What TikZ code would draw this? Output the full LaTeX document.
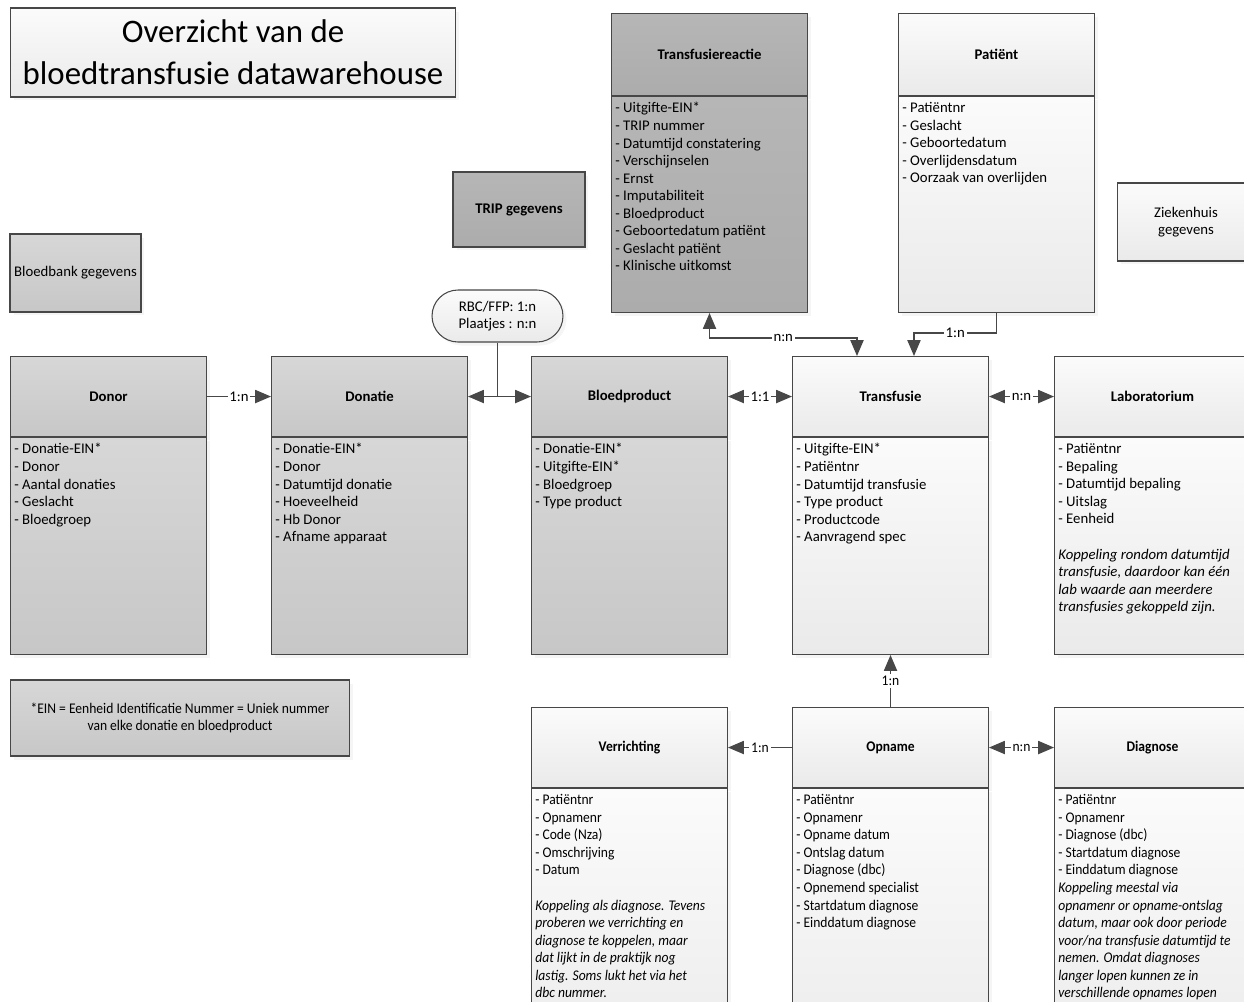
\documentclass[tikz,border=0pt]{standalone}
\usepackage{fontspec}
\setmainfont{Carlito}
\newfontfamily\smalfont[FakeStretch=0.92]{Carlito}
\usetikzlibrary{positioning, arrows.meta, shadows}
\definecolor{dwlijn}{HTML}{474747}
\definecolor{dwdonker}{HTML}{B6B6B6}
\definecolor{dwdonker2}{HTML}{ACACAC}
\definecolor{dwmidden}{HTML}{D7D7D7}
\definecolor{dwmidden2}{HTML}{C7C7C7}
\definecolor{dwlicht}{HTML}{FBFBFB}
\definecolor{dwlicht2}{HTML}{EAEAEA}

\begin{document}
\begin{tikzpicture}[x=0.02cm, y=-0.02cm, font=\fontsize{8.4}{10}\selectfont,
    box/.style={draw=dwlijn, line width=0.6pt, rectangle, inner sep=0pt,
      drop shadow={shadow xshift=0.07cm, shadow yshift=-0.07cm, fill=black!8}},
    kop/.style={box, anchor=north west, minimum width=3.92cm, minimum height=1.6cm, font=\fontsize{8.4}{10}\selectfont\bfseries},
    romp/.style={box, anchor=north, minimum width=3.92cm, minimum height=4.34cm},
    donker/.style={top color=dwdonker, bottom color=dwdonker2},
    midden/.style={top color=dwmidden, bottom color=dwmidden2},
    licht/.style={top color=dwlicht, bottom color=dwlicht2},
    lijst/.style={anchor=north west, align=left, inner sep=0pt, xshift=0.08cm, yshift=-0.12cm},
    pijl/.style={draw=dwlijn, line width=0.7pt, -{Triangle[length=9pt, width=7.5pt]}},
    dpijl/.style={pijl, {Triangle[length=9pt, width=7.5pt]}-{Triangle[length=9pt, width=7.5pt]}},
    lbl/.style={fill=white, inner sep=1pt}]
  \useasboundingbox (0,0) rectangle (1244,1001);
  \clip (0,0) rectangle (1244,1001);

  % losse blokken
  \node[box, licht, minimum width=8.92cm, minimum height=1.78cm, align=center,
    font=\fontsize{18.7}{24}\selectfont] (titel) at (233,52.5)
    {Overzicht van de\\bloedtransfusie datawarehouse};
  \node[box, donker, minimum width=2.64cm, minimum height=1.5cm, font=\fontsize{8.4}{10}\selectfont\bfseries] (trip) at (519,209.5) {TRIP gegevens};
  \node[box, midden, minimum width=2.62cm, minimum height=1.56cm] (bloedbank) at (75.5,273) {Bloedbank gegevens};
  \node[box, licht, minimum width=2.74cm, minimum height=1.56cm, align=center] (ziekenhuis) at (1186,222) {Ziekenhuis\\gegevens};
  \node[box, midden, minimum width=6.8cm, minimum height=1.52cm, align=center, font=\smalfont\fontsize{8.4}{10}\selectfont] (ein) at (180,718)
    {*EIN = Eenheid Identificatie Nummer = Uniek nummer\\van elke donatie en bloedproduct};
  \node[box, licht, minimum width=2.62cm, minimum height=1.04cm, rounded corners=0.52cm, align=center] (rbc) at (497.5,316)
    {RBC/FFP: 1:n\\Plaatjes : n:n};

  % bovenste rij
  \node[kop, donker, minimum height=1.64cm] (reactie) at (611,13) {Transfusiereactie};
  \node[romp, donker, minimum height=4.32cm] (reactie-r) at (reactie.south) {};
  \node[lijst] (reactie-t) at (reactie-r.north west) {- Uitgifte-EIN*\\- TRIP nummer\\- Datumtijd constatering\\- Verschijnselen\\- Ernst\\- Imputabiliteit\\- Bloedproduct\\- Geboortedatum patiënt\\- Geslacht patiënt\\- Klinische uitkomst};

  \node[kop, licht, minimum height=1.64cm] (patient) at (898,13) {Patiënt};
  \node[romp, licht, minimum height=4.32cm] (patient-r) at (patient.south) {};
  \node[lijst] (patient-t) at (patient-r.north west) {- Patiëntnr\\- Geslacht\\- Geboortedatum\\- Overlijdensdatum\\- Oorzaak van overlijden};

  % middelste rij
  \node[kop, midden] (donor) at (10,356) {Donor};
  \node[romp, midden] (donor-r) at (donor.south) {};
  \node[lijst] (donor-t) at (donor-r.north west) {- Donatie-EIN*\\- Donor\\- Aantal donaties\\- Geslacht\\- Bloedgroep};

  \node[kop, midden] (donatie) at (271,356) {Donatie};
  \node[romp, midden] (donatie-r) at (donatie.south) {};
  \node[lijst] (donatie-t) at (donatie-r.north west) {- Donatie-EIN*\\- Donor\\- Datumtijd donatie\\- Hoeveelheid\\- Hb Donor\\- Afname apparaat};

  \node[kop, midden] (bloedproduct) at (531,356) {Bloedproduct};
  \node[romp, midden] (bloedproduct-r) at (bloedproduct.south) {};
  \node[lijst] (bloedproduct-t) at (bloedproduct-r.north west) {- Donatie-EIN*\\- Uitgifte-EIN*\\- Bloedgroep\\- Type product};

  \node[kop, licht] (transfusie) at (792,356) {Transfusie};
  \node[romp, licht] (transfusie-r) at (transfusie.south) {};
  \node[lijst] (transfusie-t) at (transfusie-r.north west) {- Uitgifte-EIN*\\- Patiëntnr\\- Datumtijd transfusie\\- Type product\\- Productcode\\- Aanvragend spec};

  \node[kop, licht] (lab) at (1054,356) {Laboratorium};
  \node[romp, licht] (lab-r) at (lab.south) {};
  \node[lijst] (lab-t) at (lab-r.north west) {- Patiëntnr\\- Bepaling\\- Datumtijd bepaling\\- Uitslag\\- Eenheid\\[10pt]
    \textit{Koppeling rondom datumtijd}\\\textit{transfusie, daardoor kan één}\\\textit{lab waarde aan meerdere}\\\textit{transfusies gekoppeld zijn.}};

  % onderste rij
  \begin{scope}[font=\smalfont\fontsize{8.4}{10}\selectfont]
  \node[kop, licht, font=\smalfont\fontsize{8.4}{10}\selectfont\bfseries] (verrichting) at (531,707) {Verrichting};
  \node[romp, licht, minimum height=6cm] (verrichting-r) at (verrichting.south) {};
  \node[lijst] (verrichting-t) at (verrichting-r.north west) {- Patiëntnr\\- Opnamenr\\- Code (Nza)\\- Omschrijving\\- Datum\\[10pt]
    \textit{Koppeling als diagnose. Tevens}\\\textit{proberen we verrichting en}\\\textit{diagnose te koppelen, maar}\\\textit{dat lijkt in de praktijk nog}\\\textit{lastig. Soms lukt het via het}\\\textit{dbc nummer.}};

  \node[kop, licht, font=\smalfont\fontsize{8.4}{10}\selectfont\bfseries] (opname) at (792,707) {Opname};
  \node[romp, licht, minimum height=6cm] (opname-r) at (opname.south) {};
  \node[lijst] (opname-t) at (opname-r.north west) {- Patiëntnr\\- Opnamenr\\- Opname datum\\- Ontslag datum\\- Diagnose (dbc)\\- Opnemend specialist\\- Startdatum diagnose\\- Einddatum diagnose};

  \node[kop, licht, font=\smalfont\fontsize{8.4}{10}\selectfont\bfseries] (diagnose) at (1054,707) {Diagnose};
  \node[romp, licht, minimum height=6cm] (diagnose-r) at (diagnose.south) {};
  \node[lijst] (diagnose-t) at (diagnose-r.north west) {- Patiëntnr\\- Opnamenr\\- Diagnose (dbc)\\- Startdatum diagnose\\- Einddatum diagnose\\
    \textit{Koppeling meestal via}\\\textit{opnamenr or opname-ontslag}\\\textit{datum, maar ook door periode}\\\textit{voor/na transfusie datumtijd te}\\\textit{nemen. Omdat diagnoses}\\\textit{langer lopen kunnen ze in}\\\textit{verschillende opnames lopen}};
  \end{scope}

  % verbindingen
  \draw[pijl] (donor.east) -- node[lbl] {1:n} (donatie.west);
  \draw[dpijl] (donatie.east) -- (bloedproduct.west);
  \draw[dwlijn, line width=0.7pt] (rbc.south) -- (rbc.south |- donatie.east);
  \draw[dpijl] (bloedproduct.east) -- node[lbl] {1:1} (transfusie.west);
  \draw[dpijl] (transfusie.east) -- node[lbl] {n:n} (lab.west);
  \coordinate (tr-in) at ([xshift=1.3cm]transfusie.north west);
  \coordinate (pt-in) at ([xshift=2.44cm]transfusie.north west);
  \draw[dpijl] (reactie-r.south) -- ++(0,25) -| node[lbl, pos=0.25] {n:n} (tr-in);
  \draw[pijl] (patient-r.south) -- ++(0,20) -| node[lbl, pos=0.25] {1:n} (pt-in);
  \begin{scope}[font=\smalfont\fontsize{8.4}{10}\selectfont]
  \draw[pijl] (opname.north) -- node[lbl] {1:n} (transfusie-r.south);
  \draw[pijl] (opname.west) -- node[lbl] {1:n} (verrichting.east);
  \draw[dpijl] (opname.east) -- node[lbl] {n:n} (diagnose.west);
  \end{scope}
\end{tikzpicture}
\end{document}
